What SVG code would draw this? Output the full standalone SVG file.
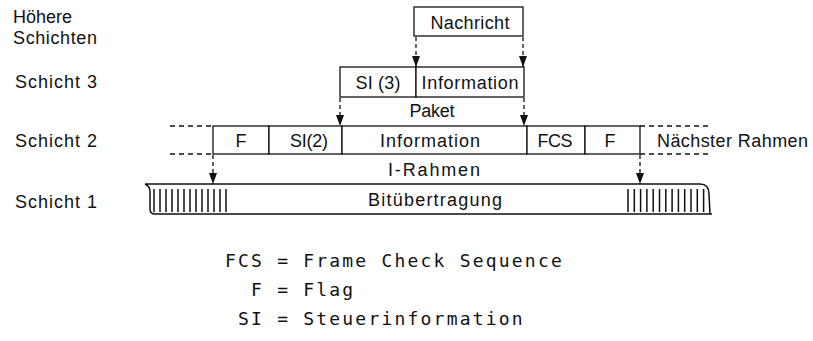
<svg xmlns="http://www.w3.org/2000/svg" width="813" height="341" viewBox="0 0 813 341">
  <style>
    .box { fill: #fff; stroke: #111; stroke-width: 1.3; }
    .t { font-family: "Liberation Sans", Arial, sans-serif; font-size: 18px; fill: #111; }
    .c { text-anchor: middle; }
    .leg { font-family: "DejaVu Sans Mono", "Liberation Mono", monospace; font-size: 18px; fill: #111; letter-spacing: 2.2px; }
    .dash { stroke: #111; stroke-width: 1.3; stroke-dasharray: 5 4; fill: none; }
    .arrow { stroke: #111; stroke-width: 1.3; stroke-dasharray: 4 3; fill: none; marker-end: url(#head); }
    .hatch { stroke: #111; stroke-width: 1.5; }
  </style>
  <defs>
    <marker id="head" viewBox="0 0 11 8" refX="11" refY="4" markerWidth="11" markerHeight="8" markerUnits="userSpaceOnUse" orient="auto">
      <path d="M0,0 L11,4 L0,8 Z" fill="#111"/>
    </marker>
  </defs>

  <!-- layer names -->
  <g id="layer-labels">
    <text class="t" x="13" y="23" textLength="59" lengthAdjust="spacing">Höhere</text>
    <text class="t" x="13" y="44" textLength="84" lengthAdjust="spacing">Schichten</text>
    <text class="t" x="15" y="88" textLength="82" lengthAdjust="spacing">Schicht  3</text>
    <text class="t" x="15" y="147" textLength="82" lengthAdjust="spacing">Schicht  2</text>
    <text class="t" x="15" y="208" textLength="82" lengthAdjust="spacing">Schicht  1</text>
  </g>

  <!-- higher layers: message -->
  <g id="nachricht">
    <rect class="box" x="414" y="7" width="109" height="29"/>
    <text class="t c" x="470" y="29" textLength="79" lengthAdjust="spacing">Nachricht</text>
  </g>

  <!-- layer 3: packet -->
  <g id="paket">
    <rect class="box" x="340" y="67" width="76" height="30"/>
    <rect class="box" x="416" y="67" width="108" height="30"/>
    <text class="t c" x="378" y="89" textLength="45" lengthAdjust="spacing">SI (3)</text>
    <text class="t c" x="470" y="89" textLength="97" lengthAdjust="spacing">Information</text>
    <text class="t c" x="432" y="117" textLength="45" lengthAdjust="spacing">Paket</text>
  </g>

  <!-- layer 2: I-frame -->
  <g id="i-rahmen">
    <rect class="box" x="213" y="126" width="56" height="28"/>
    <rect class="box" x="269" y="126" width="73" height="28"/>
    <rect class="box" x="342" y="126" width="185" height="28"/>
    <rect class="box" x="527" y="126" width="58" height="28"/>
    <rect class="box" x="585" y="126" width="55" height="28"/>
    <text class="t c" x="241" y="147">F</text>
    <text class="t c" x="309" y="147" textLength="38" lengthAdjust="spacing">SI(2)</text>
    <text class="t c" x="430" y="147" textLength="100" lengthAdjust="spacing">Information</text>
    <text class="t c" x="555" y="147" textLength="35" lengthAdjust="spacing">FCS</text>
    <text class="t c" x="610" y="147">F</text>
    <text class="t c" x="434" y="176" textLength="92" lengthAdjust="spacing">I-Rahmen</text>
    <path class="dash" d="M170,126 H213 M170,154 H213 M640,126 H708 M640,154 H708"/>
  </g>

  <g id="naechster-rahmen">
    <text class="t" x="657" y="147" textLength="151" lengthAdjust="spacing">Nächster  Rahmen</text>
  </g>

  <!-- layer 1: bit transmission -->
  <g id="bituebertragung">
    <path d="M145,184 H700 Q709,184 709,194 L710,214 M145,184 Q150,186 150,192 L150,209 Q150,214 155,214 H712" fill="none" stroke="#111" stroke-width="1.5"/>
    <path class="hatch" d="M154,189 V212 M160,189 V212 M166,189 V212 M172,189 V212 M178,189 V212 M184,189 V212 M190,189 V212 M196,189 V212 M202,189 V212 M208,189 V212 M214,189 V212 M220,189 V212 M226,189 V212"/>
    <path class="hatch" d="M628,189 V212 M634.3,189 V212 M640.6,189 V212 M646.9,189 V212 M653.2,189 V212 M659.5,189 V212 M665.8,189 V212 M672.1,189 V212 M678.4,189 V212 M684.7,189 V212 M691,189 V212 M697.3,189 V212 M703.6,189 V212"/>
    <text class="t c" x="435" y="206" textLength="134" lengthAdjust="spacing">Bitübertragung</text>
  </g>

  <!-- encapsulation arrows -->
  <g id="connectors">
    <line class="arrow" x1="416" y1="37" x2="416" y2="67"/>
    <line class="arrow" x1="523" y1="37" x2="523" y2="67"/>
    <line class="arrow" x1="340" y1="98" x2="340" y2="126"/>
    <line class="arrow" x1="524" y1="98" x2="524" y2="126"/>
    <line class="arrow" x1="213" y1="155" x2="213" y2="184"/>
    <line class="arrow" x1="640" y1="155" x2="640" y2="184"/>
  </g>

  <!-- legend -->
  <g id="legend">
    <text class="leg" x="225" y="267" xml:space="preserve">FCS = Frame Check Sequence</text>
    <text class="leg" x="225" y="296" xml:space="preserve">  F = Flag</text>
    <text class="leg" x="225" y="325" xml:space="preserve"> SI = Steuerinformation</text>
  </g>
</svg>
